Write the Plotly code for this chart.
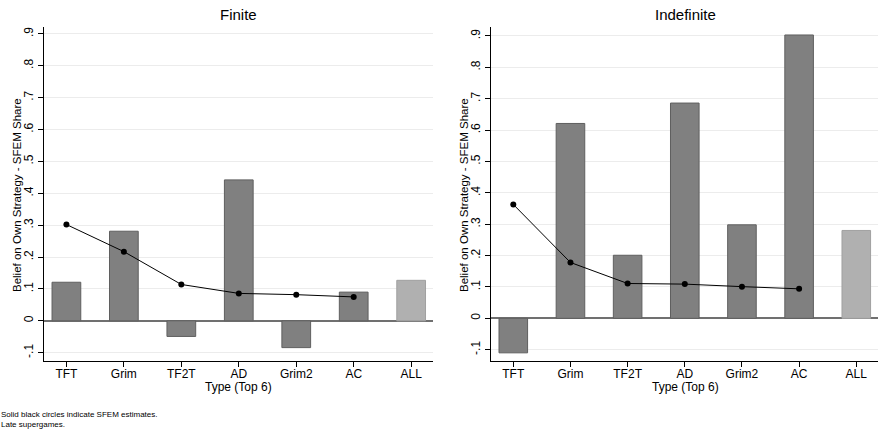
import plotly.graph_objects as go

categories = ["TFT", "Grim", "TF2T", "AD", "Grim2", "AC", "ALL"]
finite_share = [0.121, 0.281, -0.049, 0.442, -0.084, 0.090, 0.127]
finite_sfem = [0.302, 0.217, 0.114, 0.086, 0.082, 0.075]
indef_share = [-0.110, 0.621, 0.201, 0.686, 0.298, 0.903, 0.280]
indef_sfem = [0.363, 0.178, 0.111, 0.109, 0.101, 0.094]
ytick_vals = [-0.1, 0, 0.1, 0.2, 0.3, 0.4, 0.5, 0.6, 0.7, 0.8, 0.9]
ytick_text = ["-.1", "0", ".1", ".2", ".3", ".4", ".5", ".6", ".7", ".8", ".9"]

W, H = 878, 435
FONT = "Liberation Sans, Arial, Helvetica, sans-serif"

bar_fill = ["#808080"] * 6 + ["#b0b0b0"]
bar_line = ["#5f5f5f"] * 6 + ["#a0a0a0"]

fig = go.Figure()
for i, (share, sfem) in enumerate([(finite_share, finite_sfem), (indef_share, indef_sfem)]):
    xa = "x" if i == 0 else "x2"
    ya = "y" if i == 0 else "y2"
    fig.add_trace(go.Bar(x=categories, y=share, xaxis=xa, yaxis=ya, width=0.5,
                         marker=dict(color=bar_fill, line=dict(color=bar_line, width=1)),
                         showlegend=False, hoverinfo="x+y"))
    fig.add_trace(go.Scatter(x=categories[:6], y=sfem, xaxis=xa, yaxis=ya, mode="lines+markers",
                             line=dict(color="black", width=1),
                             marker=dict(color="black", size=6),
                             showlegend=False))

def px_x(a, b):
    return [a / W, b / W]

def px_y(top, bottom):
    return [1 - bottom / H, 1 - top / H]

xcommon = dict(showline=True, linecolor="black", linewidth=1.3, ticks="outside", ticklen=5,
               tickcolor="black", showgrid=False, tickfont=dict(size=12, color="black", family=FONT),
               ticklabelstandoff=-4,
               range=[-0.39, 6.38], fixedrange=True, automargin=False)
ycommon = dict(showline=True, linecolor="black", linewidth=1.3, ticks="outside", ticklen=5,
               tickcolor="black", showgrid=True, gridcolor="#ececec", gridwidth=1,
               tickvals=ytick_vals, ticktext=ytick_text, tickangle=-90,
               tickfont=dict(size=12, color="black", family=FONT),
               zeroline=True, zerolinecolor="#707070", zerolinewidth=1.5,
               fixedrange=True, automargin=False)

def note(text, x, y, size, xanchor="center", yanchor="middle", angle=0):
    return dict(text=text, x=x / W, y=1 - y / H, xref="paper", yref="paper",
                showarrow=False, align="left", font=dict(size=size, color="black", family=FONT),
                xanchor=xanchor, yanchor=yanchor, borderpad=0, textangle=angle)

ytitle = "Belief on Own Strategy - SFEM Share"

fig.update_layout(
    width=W, height=H,
    margin=dict(l=0, r=0, t=0, b=0, autoexpand=False),
    paper_bgcolor="white", plot_bgcolor="white",
    font=dict(family=FONT, color="black"),
    bargap=0.5,
    xaxis=dict(domain=px_x(44, 433), anchor="y", **xcommon),
    yaxis=dict(domain=px_y(26.5, 361), anchor="x", range=[-0.126, 0.923], **ycommon),
    xaxis2=dict(domain=px_x(491, 878), anchor="y2", **xcommon),
    yaxis2=dict(domain=px_y(26.5, 361), anchor="x2", range=[-0.136, 0.930], **ycommon),
    annotations=[
        note("Finite", 238, 15, 15),
        note("Indefinite", 685, 15, 15),
        note("Type (Top 6)", 238, 387, 12),
        note("Type (Top 6)", 685, 387, 12),
        note(ytitle, 17, 195, 11.5, angle=-90),
        note(ytitle, 464, 195, 11.5, angle=-90),
        note("Solid black circles indicate SFEM estimates.<br>Late supergames.", 0, 409, 8,
             xanchor="left", yanchor="top"),
    ],
)

fig.write_html("out.html", config={"displayModeBar": False},
               post_script="document.body.style.margin='0';document.body.style.overflow='hidden';")
